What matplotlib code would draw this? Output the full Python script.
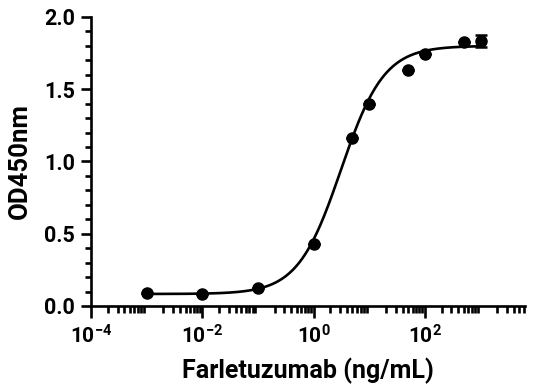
import numpy as np
import matplotlib
matplotlib.use("Agg")
import matplotlib.pyplot as plt
from matplotlib.ticker import LogLocator, MultipleLocator

plt.rcParams['font.family'] = ['Roboto', 'DejaVu Sans']
plt.rcParams['font.weight'] = 'bold'
plt.rcParams['mathtext.fontset'] = 'custom'
plt.rcParams['mathtext.rm'] = 'Roboto:bold'
plt.rcParams['mathtext.bf'] = 'Roboto:bold'
plt.rcParams['mathtext.it'] = 'Roboto:bold'

conc = [0.001, 0.01, 0.1, 1, 5, 10, 50, 100, 500, 1000]
od = [0.088, 0.083, 0.125, 0.43, 1.16, 1.40, 1.63, 1.745, 1.83, 1.836]
err = [0, 0, 0, 0, 0, 0, 0, 0, 0, 0.042]

# 4PL fit parameters
bottom, top, ec50, hill = 0.083, 1.80, 3.1, 1.12

xticks = [1e-4, 1e-2, 1e0, 1e2]
xticklabels = [r'$\mathbf{10^{-4}}$', r'$\mathbf{10^{-2}}$', r'$\mathbf{10^{0}}$', r'$\mathbf{10^{2}}$']
yticks = [0.0, 0.5, 1.0, 1.5, 2.0]

fig = plt.figure(figsize=(5.41, 3.86), dpi=100)
ax = fig.add_axes([0.1682, 0.2073, 0.8022, 0.7487])

xf = np.logspace(np.log10(conc[0]), np.log10(conc[-1]), 400)
yf = bottom + (top - bottom) / (1 + (ec50 / xf) ** hill)
ax.plot(xf, yf, color='black', lw=1.9, zorder=2)
ax.errorbar(conc, od, yerr=err, fmt='o', color='black', ms=8,
            capsize=4, elinewidth=1.8, capthick=1.8, zorder=3)

ax.set_xscale('log')
ax.set_xlim(1e-4, 6300)
ax.set_ylim(0, 2.0)
ax.set_xticks(xticks)
ax.set_xticklabels(xticklabels)
ax.xaxis.set_minor_locator(LogLocator(base=10, subs=np.arange(2, 10), numticks=20))
ax.set_yticks(yticks)
ax.set_yticklabels([f'{v:.1f}' for v in yticks])
ax.yaxis.set_minor_locator(MultipleLocator(0.1))

for s in ['top', 'right']:
    ax.spines[s].set_visible(False)
for s in ['left', 'bottom']:
    ax.spines[s].set_linewidth(1.9)
ax.tick_params(which='major', width=1.9)
ax.tick_params(which='minor', width=1.9)
ax.tick_params(axis='x', which='major', length=8.5, pad=5, labelsize=15)
ax.tick_params(axis='x', which='minor', length=5)
ax.tick_params(axis='y', which='major', length=7.5, pad=4, labelsize=15.5)
ax.tick_params(axis='y', which='minor', length=4)
for lab in ax.get_yticklabels() + ax.get_xticklabels():
    lab.set_fontweight('bold')

ax.set_xlabel('Farletuzumab (ng/mL)', fontsize=18, fontweight='bold', labelpad=7)
ax.set_ylabel('OD450nm', fontsize=18.5, fontweight='bold', labelpad=9)

fig.savefig('out.png', dpi=100)
